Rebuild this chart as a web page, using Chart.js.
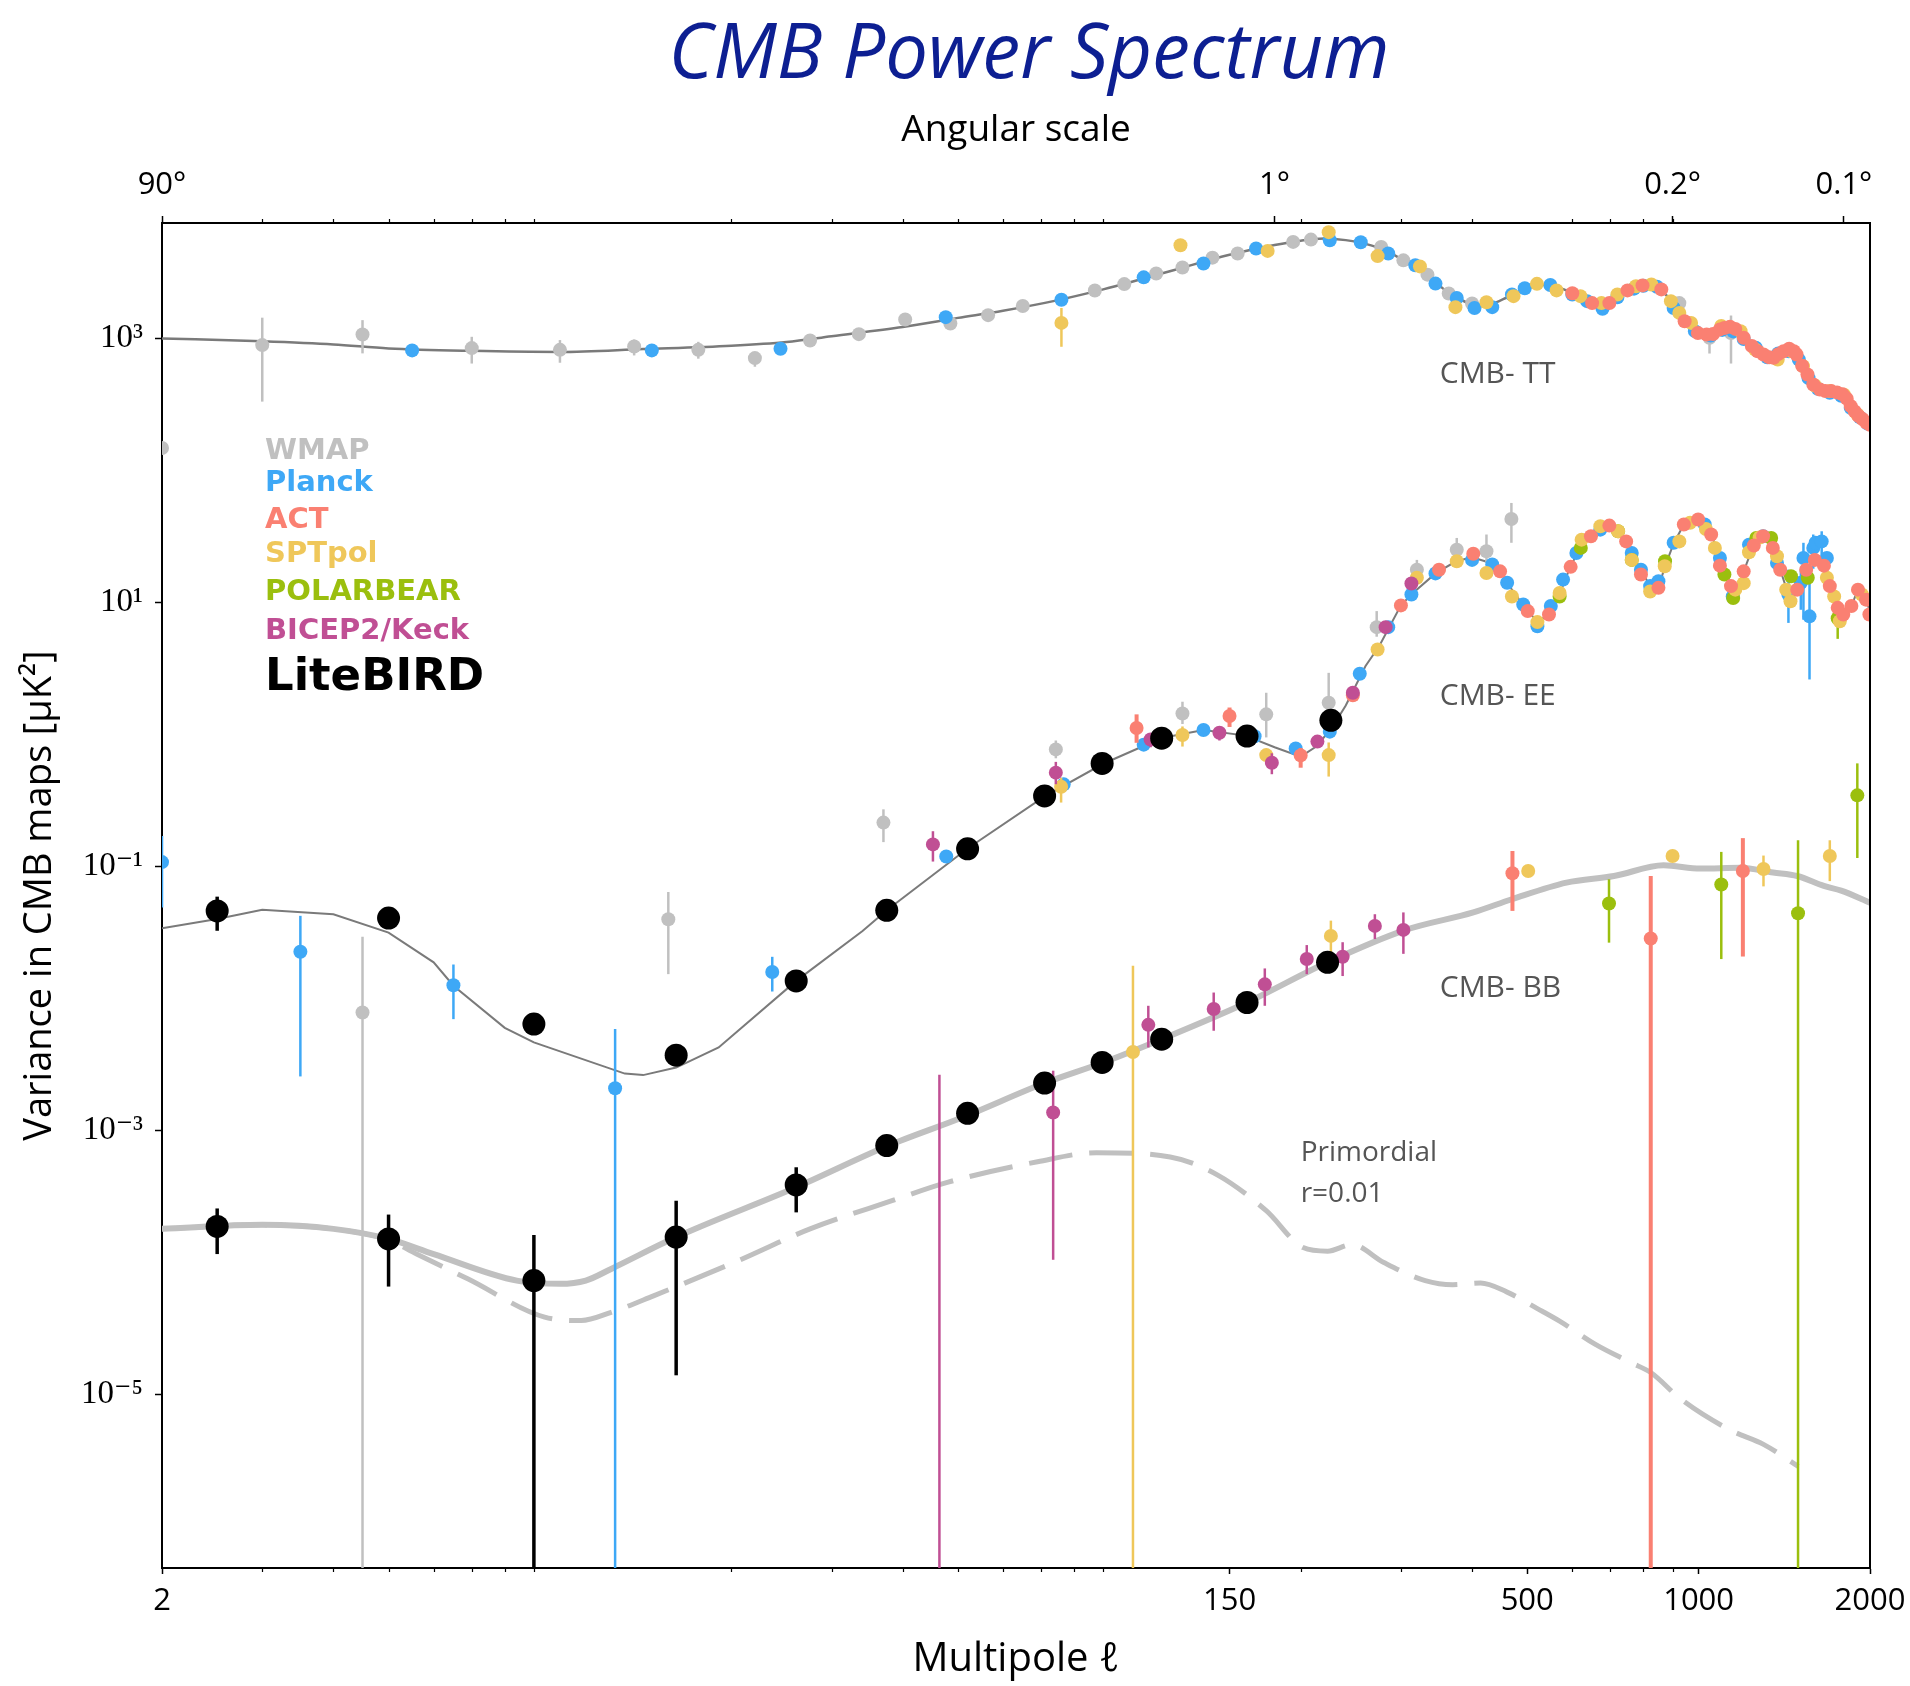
<!DOCTYPE html>
<html>
<head>
<meta charset="utf-8">
<title>CMB Power Spectrum</title>
<script src="https://cdn.jsdelivr.net/npm/chart.js"></script>
<style>
  html, body { margin: 0; padding: 0; background: #fff; }
  canvas { display: block; }
</style>
</head>
<body>
<canvas id="cmbChart" width="1910" height="1686"></canvas>
<script>
var SANS = '"Open Sans", "DejaVu Sans", sans-serif';
var SERIF = '"Liberation Serif", "DejaVu Serif", serif';

// axis ticks
var xTicks = [2, 150, 500, 1000, 2000];
var xMinor = [3, 4, 5, 6, 7, 8, 9, 20, 30, 40, 50, 60, 70, 80, 90, 200, 300, 400, 600, 700, 800, 900];
var topTicks = [2, 180, 900, 1800];
var topLabels = ['90°', '1°', '0.2°', '0.1°'];
var yTicks = [1e3, 1e1, 1e-1, 1e-3, 1e-5];
var yLabels = ['10³', '10¹', '10⁻¹', '10⁻³', '10⁻⁵'];

// theory curves (multipole, variance in uK^2)
var ttEll = [2, 3, 4, 5, 7, 10, 14, 20, 25, 30, 40, 50, 60, 75, 90, 100, 120, 150, 180, 200, 220, 240, 260, 280, 300, 330, 360, 400, 420, 450, 500, 540, 580, 620, 680, 720, 760, 800, 840, 880, 920, 960, 1000, 1050, 1100, 1150, 1200, 1250, 1320, 1400, 1450, 1500, 1560, 1620, 1700, 1800, 1870, 1950, 2000];
var ttVal = [1000, 950, 900, 840, 805, 790, 830, 880, 940, 1040, 1220, 1430, 1620, 1950, 2350, 2650, 3300, 4300, 5100, 5500, 5700, 5550, 5200, 4700, 4000, 3100, 2300, 1800, 1750, 1950, 2400, 2550, 2350, 2050, 1800, 2050, 2350, 2500, 2450, 2100, 1650, 1300, 1100, 1080, 1180, 1170, 1000, 850, 720, 790, 820, 700, 520, 420, 395, 370, 300, 250, 225];

var eeEll = [2, 2.5, 3, 4, 5, 6, 6.5, 8, 9, 13, 14, 16, 19, 26, 34, 37.5, 52, 71, 90, 114, 135, 160, 180, 200, 212, 226, 240, 260, 275, 300, 315, 345, 375, 400, 430, 450, 470, 495, 520, 545, 570, 590, 610, 640, 670, 697, 722, 746, 770, 795, 822, 850, 872, 904, 942, 998, 1025, 1052, 1090, 1140, 1160, 1200, 1263, 1298, 1350, 1391, 1438, 1490, 1545, 1600, 1660, 1700, 1755, 1795, 1855, 1905, 1968, 2000];
var eeVal = [0.034, 0.040, 0.047, 0.0435, 0.0316, 0.0188, 0.0125, 0.0060, 0.00465, 0.0027, 0.00263, 0.0030, 0.00426, 0.0136, 0.0325, 0.0466, 0.137, 0.34, 0.60, 0.94, 1.08, 0.98, 0.80, 0.68, 0.80, 1.09, 1.66, 3.3, 4.7, 9.5, 11.8, 16.6, 20.5, 22, 20, 17, 12.5, 9.2, 7.2, 8, 11.5, 17, 23, 31, 35.6, 38, 35, 29, 22, 17, 13.3, 12.9, 18.5, 28, 39, 42.5, 39, 33, 22, 13.3, 11.2, 17.2, 30.8, 31.7, 26, 17.7, 11.5, 12.5, 17.7, 21, 19, 13.3, 9.1, 8.1, 9.4, 12.5, 10.5, 8.5];

var bbEll = [2, 3, 4, 5, 6, 8.4, 10, 11.1, 12.3, 16, 26, 37.5, 51, 71, 90, 114, 161, 223, 305, 402, 470, 586, 710, 868, 1007, 1184, 1352, 1490, 1660, 1780, 2000];
var bbVal = [0.00018, 0.000193, 0.00018, 0.000151, 0.000116, 0.000073, 0.000069, 0.000073, 0.0000895, 0.000156, 0.000372, 0.00076, 0.00126, 0.00229, 0.00328, 0.00492, 0.00933, 0.0188, 0.033, 0.0449, 0.0565, 0.0755, 0.0847, 0.102, 0.0964, 0.098, 0.09, 0.0847, 0.0713, 0.0656, 0.0532];

var prEll = [2, 3, 4, 5, 5.6, 6.9, 9.4, 10.9, 12.3, 14.6, 20.2, 27.5, 38.3, 47.9, 69, 87.5, 118, 143, 174, 202, 223, 246, 280, 331, 370, 414, 460, 520, 570, 660, 760, 824, 932, 1135, 1300, 1496];
var prVal = [0.00018, 0.000193, 0.00018, 0.000148, 0.000116, 0.000075, 0.0000386, 0.0000364, 0.000042, 0.000056, 0.0001, 0.00018, 0.000294, 0.000405, 0.00058, 0.00068, 0.00063, 0.00046, 0.000247, 0.00013, 0.000122, 0.000137, 0.0001, 0.000073, 0.000068, 0.00007, 0.00006, 0.000045, 0.000036, 0.0000239, 0.0000175, 0.0000147, 0.0000092, 0.0000054, 0.0000042, 0.00000286];

// measurements: [multipole, value, lower, upper]; lower 0 = bar runs off the bottom
var wmapTT = [[2, 148], [3, 890, 332, 1435], [4.5, 1070, 770, 1375], [7, 844, 645, 1028], [10, 819, 654, 971], [13.5, 869, 743, 981], [17.5, 819, 702, 942], [22, 709, 610, 790], [27.5, 965], [33.5, 1077], [40.4, 1390], [48.5, 1296], [56.5, 1500], [65, 1760], [87, 2307], [98, 2577], [111.5, 3100], [124, 3440], [140, 4090], [155, 4390], [194, 5380], [208.5, 5600], [277, 4930], [303, 3900], [334, 3040], [364, 2190], [400, 1840], [925, 1850], [1045, 1010, 768, 1170], [1140, 1100, 645, 1490]];
var wmapEE = [[4.5, 0.00783, 0, 0.0294], [15.5, 0.0399, 0.0153, 0.0641], [37, 0.215, 0.153, 0.271], [74.3, 0.771, 0.66, 0.9], [124, 1.44, 1.2, 1.77], [174, 1.42, 0.95, 2.07], [224, 1.74, 1.3, 2.93], [272, 6.5, 5.5, 8.6], [320, 17.7, 15, 21], [376, 25.1, 20, 30.8], [424, 24.4, 20, 32.7], [469, 42.9, 28.3, 56.7]];

var planckTT = [[5.5, 811], [14.5, 811], [24.4, 835], [47.6, 1449], [76, 1960], [106, 2900], [135, 3690], [167, 4800], [225, 5540], [255, 5350], [285, 4390], [318, 3580], [345, 2600], [376, 2025], [404, 1700], [434, 1725], [470, 2150], [495, 2400], [549, 2540], [600, 2150], [637, 1915], [678, 1675], [720, 2050], [770, 2380], [800, 2500], [845, 2460], [904, 1700], [985, 1135], [1050, 1050], [1100, 1160], [1150, 1130], [1200, 990], [1260, 850], [1320, 720], [1380, 770], [1440, 800], [1500, 690], [1560, 500], [1620, 415], [1700, 388], [1780, 368], [1850, 298], [1920, 252], [1980, 226]];
var planckEE = [[2, 0.108, 0.049, 0.17], [3.5, 0.0226, 0.00257, 0.0423], [6.5, 0.0126, 0.00698, 0.0181], [12.5, 0.00209, 0, 0.00587], [23.6, 0.0159, 0.0113, 0.0207], [47.7, 0.119], [76.7, 0.419], [106, 0.837], [135, 1.08], [166, 0.97], [196, 0.783], [225, 1.05], [254, 2.88], [285, 6.5], [313, 11.5], [345, 16.6], [400, 21], [434, 19.4], [461, 14.1], [492, 9.65], [521, 6.6], [550, 9.4], [578, 14.9], [610, 23.7], [672, 35.6], [763, 23.7], [792, 17.7], [822, 13.3], [850, 14.5], [904, 28.3], [1025, 38.9], [1090, 21.7], [1148, 11.1], [1226, 27.4], [1298, 31.7], [1373, 19.9], [1438, 11.5, 7, 17.7], [1512, 14.1, 8.8, 17.7], [1528, 21.7, 7.4, 28.3], [1566, 7.85, 2.61, 18.8], [1590, 25.9, 18, 32.7], [1605, 28.3], [1645, 29, 22, 34.6], [1680, 21.7]];

var actTT = [[600, 2200], [650, 1850], [697, 1850], [750, 2310], [797, 2520], [860, 2350], [945, 1350], [997, 1100], [1033, 1070], [1060, 1080], [1090, 1170], [1110, 1200], [1135, 1224], [1160, 1180], [1200, 1010], [1240, 875], [1270, 800], [1300, 755], [1330, 720], [1355, 714], [1380, 760], [1410, 800], [1442, 835], [1470, 800], [1486, 755], [1520, 620], [1553, 533], [1590, 448], [1633, 410], [1670, 400], [1710, 399], [1750, 390], [1790, 377], [1820, 350], [1850, 307], [1880, 280], [1910, 258], [1940, 245], [1970, 230], [2000, 222]];
var actEE = [[103, 1.12, 0.865, 1.42], [150, 1.38, 1.14, 1.6], [200, 0.694, 0.56, 0.79], [247, 1.98], [300, 9.5], [350, 17.7], [402, 23.4], [448, 17.2], [501, 8.6], [546, 8.1], [596, 18.6], [647, 31.7], [697, 38.2], [746, 29], [792, 16.3], [850, 12.9], [942, 38.9], [998, 42.5], [1052, 32.7], [1090, 19], [1140, 13.3], [1200, 17.2], [1250, 27], [1298, 31.7], [1350, 25.9], [1391, 17.7], [1490, 12.5], [1545, 17.7], [1600, 21], [1660, 19], [1700, 13.3], [1755, 9.1], [1795, 8.1], [1855, 9.4], [1905, 12.5], [1968, 10.5], [1995, 8.1]];
var actBB = [[471, 0.0888, 0.0461, 0.131], [824, 0.0285, 0, 0.0847], [1196, 0.0924, 0.0208, 0.164]];

var sptTT = [[76, 1310, 864, 1700], [123, 5080], [175, 4600], [224, 6380], [273, 4200], [324, 3510], [374, 1725], [424, 1880], [473, 2090], [520, 2590], [563, 2310], [620, 2090], [675, 1850], [720, 2150], [776, 2480], [826, 2560], [894, 1915], [925, 1560], [970, 1310], [1096, 1240], [1185, 1135], [1257, 824], [1377, 692], [1458, 800], [1525, 616], [1600, 440], [1700, 400], [1800, 375], [1900, 265]];
var sptEE = [[75.9, 0.402, 0.305, 0.47], [124, 0.99, 0.81, 1.15], [174, 0.698], [224, 0.698, 0.48, 0.87], [273, 4.4], [320, 15.4], [376, 20.5], [424, 16.7], [470, 11.1], [521, 7.1], [570, 11.8], [623, 29.9], [672, 37.8], [722, 34.6], [763, 21], [822, 12.1], [872, 18.8], [925, 29], [966, 40.1], [1030, 36], [1068, 25.9], [1160, 12.5], [1200, 14], [1226, 24], [1280, 31], [1373, 22.4], [1425, 12.5], [1450, 10.2], [1680, 15.4], [1730, 11.1], [1770, 7.2], [1935, 11.5]];
var sptBB = [[101.5, 0.00394, 0, 0.0177], [226, 0.0298, 0.0218, 0.0389], [502, 0.0924], [900, 0.12], [1300, 0.0958, 0.0707, 0.121], [1700, 0.12, 0.0775, 0.158]];

var pbEE = [[570, 11.1], [621, 25.9], [722, 34.6], [763, 21], [873, 20.5], [1110, 16.3], [1150, 10.8], [1263, 30.8], [1341, 30.8], [1453, 15.8], [1555, 15.4], [1755, 7.6, 5.3, 9.5]];
var pbBB = [[696, 0.0524, 0.0265, 0.08], [1096, 0.073, 0.0199, 0.129], [1495, 0.0443, 0, 0.158], [1900, 0.346, 0.116, 0.604]];

var bkEE = [[45.2, 0.147, 0.109, 0.185], [74.3, 0.514, 0.42, 0.62], [109, 0.916, 0.8, 1.0], [144, 1.03, 0.9, 1.15], [178, 0.611, 0.5, 0.72], [214, 0.883], [247, 2.07], [282, 6.5], [313, 13.9]];
var bkBB = [[46.4, null, 0, 0.00265], [73.5, 0.00137, 0.000105, 0.00284], [108, 0.00632, 0.00426, 0.00881], [140.7, 0.00832, 0.0057, 0.0111], [173, 0.0128, 0.00881, 0.0169], [205, 0.0199, 0.0153, 0.0254], [237, 0.0207, 0.0148, 0.0267], [270, 0.0355, 0.0282, 0.0435], [303, 0.0331, 0.0218, 0.0449]];

var lbEE = [[2.5, 0.0461, 0.0326, 0.0591], [5, 0.0407], [9, 0.0064], [16, 0.00372], [26, 0.0136], [37.5, 0.0466], [52, 0.136], [71, 0.342], [89.6, 0.604], [114, 0.937], [161, 0.973], [226, 1.28]];
var lbBB = [[2.5, 0.000188, 0.000116, 0.000257], [5, 0.000151, 0.0000658, 0.000231], [9, 0.000073, 0, 0.000162], [16, 0.000156, 0.000014, 0.000294], [26, 0.000387, 0.00024, 0.000527], [37.5, 0.00077], [52, 0.00135], [71, 0.00229], [89.6, 0.00328], [114, 0.00492], [161, 0.00933], [223, 0.0188]];

// curve labels
var curveLabels = ['CMB- TT', 'CMB- EE', 'CMB- BB', 'Primordial', 'r=0.01'];
var curveLabelEll = [351, 351, 351, 200, 200];
var curveLabelVal = [529, 1.95, 0.012, 0.00067, 0.00033];

var experiments = [
  { name: 'WMAP', color: '#c0c0c0', rows: wmapTT.concat(wmapEE), bar: 2.5, r: 7, order: 6 },
  { name: 'Planck', color: '#3ea8f6', rows: planckTT.concat(planckEE), bar: 2.5, r: 7, order: 5 },
  { name: 'ACT', color: '#fa8072', rows: actTT.concat(actEE, actBB), bar: 4, r: 7, order: 2 },
  { name: 'SPTpol', color: '#efc75a', rows: sptTT.concat(sptEE, sptBB), bar: 2.5, r: 7, order: 3 },
  { name: 'POLARBEAR', color: '#9bbf0e', rows: pbEE.concat(pbBB), bar: 2.5, r: 7, order: 4 },
  { name: 'BICEP2/Keck', color: '#c04f94', rows: bkEE.concat(bkBB), bar: 2.5, r: 7, order: 1 },
  { name: 'LiteBIRD', color: '#000000', rows: lbEE.concat(lbBB), bar: 3.5, r: 11.5, order: 0 }
];

function curve(ells, vals) {
  return ells.map(function (l, i) { return { x: l, y: vals[i] }; });
}

var datasets = [
  { label: 'TT', data: curve(ttEll, ttVal), borderColor: '#7a7a7a', borderWidth: 2.5, order: 20, cubicInterpolationMode: 'monotone' },
  { label: 'EE', data: curve(eeEll, eeVal), borderColor: '#7a7a7a', borderWidth: 2, order: 19, tension: 0 },
  { label: 'BB', data: curve(bbEll, bbVal), borderColor: '#c0c0c0', borderWidth: 6, order: 18, cubicInterpolationMode: 'monotone' },
  { label: 'Primordial', data: curve(prEll, prVal), borderColor: '#c0c0c0', borderWidth: 5, borderDash: [44, 17], order: 17, cubicInterpolationMode: 'monotone' }
].map(function (d) {
  d.showLine = true; d.pointRadius = 0; d.clip = 0; d.fill = false;
  return d;
});

experiments.forEach(function (e) {
  datasets.push({
    label: e.name,
    data: e.rows.filter(function (p) { return p[1] != null; }).map(function (p) { return { x: p[0], y: p[1] }; }),
    bars: e.rows.filter(function (p) { return p.length > 2; }),
    barWidth: e.bar,
    pointRadius: e.r,
    pointBackgroundColor: e.color,
    pointBorderColor: e.color,
    pointBorderWidth: 0,
    backgroundColor: e.color,
    borderColor: e.color,
    showLine: false,
    clip: 0,
    order: e.order
  });
});

var decorations = {
  id: 'decorations',
  beforeDatasetDraw: function (chart, args) {
    var ds = chart.data.datasets[args.index];
    if (!ds.bars || !ds.bars.length) return;
    var ctx = chart.ctx, a = chart.chartArea, x = chart.scales.x, y = chart.scales.y;
    ctx.save();
    ctx.beginPath();
    ctx.rect(a.left, a.top, a.right - a.left, a.bottom - a.top);
    ctx.clip();
    ctx.strokeStyle = ds.borderColor;
    ctx.lineWidth = ds.barWidth;
    ds.bars.forEach(function (p) {
      var px = x.getPixelForValue(p[0]);
      var lo = p[2] > 0 ? y.getPixelForValue(p[2]) : a.bottom + 10;
      ctx.beginPath();
      ctx.moveTo(px, lo);
      ctx.lineTo(px, y.getPixelForValue(p[3]));
      ctx.stroke();
    });
    ctx.restore();
  },
  afterDraw: function (chart) {
    var ctx = chart.ctx, a = chart.chartArea, x = chart.scales.x, y = chart.scales.y;
    ctx.save();
    // right spine
    ctx.strokeStyle = '#000';
    ctx.lineWidth = 2;
    ctx.beginPath();
    ctx.moveTo(a.right, a.top - 1);
    ctx.lineTo(a.right, a.bottom + 1);
    ctx.stroke();
    // minor ticks, bottom and top
    ctx.lineWidth = 1.2;
    xMinor.forEach(function (v) {
      var px = Math.round(x.getPixelForValue(v)) + 0.5;
      ctx.beginPath();
      ctx.moveTo(px, a.bottom);
      ctx.lineTo(px, a.bottom + 4);
      ctx.moveTo(px, a.top);
      ctx.lineTo(px, a.top - 4);
      ctx.stroke();
    });
    // title
    ctx.fillStyle = '#0d1f92';
    ctx.font = 'italic 76px ' + SANS;
    ctx.textAlign = 'center';
    ctx.textBaseline = 'alphabetic';
    ctx.fillText('CMB Power Spectrum', 1029, 78);
    // legend (coloured names)
    var baselines = [459, 491, 528, 562, 600, 639, 690];
    ctx.textAlign = 'left';
    experiments.forEach(function (e, i) {
      ctx.fillStyle = e.color;
      ctx.font = (e.name === 'LiteBIRD' ? 'bold 45px ' : 'bold 29px ') + '"DejaVu Sans", sans-serif';
      ctx.fillText(e.name, 265, baselines[i]);
    });
    // curve labels
    ctx.fillStyle = '#555';
    ctx.textBaseline = 'middle';
    curveLabels.forEach(function (t, i) {
      ctx.font = (i < 3 ? '30px ' : '28px ') + SANS;
      ctx.fillText(t, x.getPixelForValue(curveLabelEll[i]), y.getPixelForValue(curveLabelVal[i]));
    });
    ctx.restore();
  }
};

var ctx = document.getElementById('cmbChart').getContext('2d');
var cmbChart = new Chart(ctx, {
  type: 'scatter',
  data: { datasets: datasets },
  options: {
    responsive: false,
    animation: false,
    events: [],
    layout: { padding: { top: 0, left: 0, right: 40, bottom: 0 } },
    plugins: {
      legend: { display: false },
      tooltip: { enabled: false }
    },
    scales: {
      x: {
        type: 'logarithmic',
        position: 'bottom',
        min: 2,
        max: 2000,
        bounds: 'data',
        afterBuildTicks: function (s) { s.ticks = xTicks.map(function (v) { return { value: v }; }); },
        afterFit: function (s) { s.height = 118; s.paddingLeft = 0; s.paddingRight = 0; },
        ticks: {
          autoSkip: false, maxRotation: 0, padding: 9, color: '#000',
          font: { family: SANS, size: 31 },
          callback: function (v) { return String(v); }
        },
        grid: { drawOnChartArea: false, tickLength: 6, tickColor: '#000', tickWidth: 1.5 },
        border: { color: '#000', width: 2 },
        title: { display: true, text: 'Multipole ℓ', color: '#000', font: { family: SANS, size: 40 }, padding: { top: 0, bottom: 2 } }
      },
      xTop: {
        type: 'logarithmic',
        position: 'top',
        min: 2,
        max: 2000,
        bounds: 'data',
        afterBuildTicks: function (s) { s.ticks = topTicks.map(function (v) { return { value: v }; }); },
        afterFit: function (s) { s.height = 223; s.paddingLeft = 0; s.paddingRight = 0; },
        ticks: {
          autoSkip: false, maxRotation: 0, padding: 12, color: '#000',
          font: { family: SANS, size: 31 },
          callback: function (v, i) { return topLabels[i]; }
        },
        grid: { drawOnChartArea: false, tickLength: 7, tickColor: '#000', tickWidth: 1.5 },
        border: { color: '#000', width: 2 },
        title: { display: true, text: 'Angular scale', color: '#000', font: { family: SANS, size: 37 }, padding: { top: 108, bottom: 0 } }
      },
      y: {
        type: 'logarithmic',
        position: 'left',
        min: 4.86e-7,
        max: 7482,
        bounds: 'data',
        afterBuildTicks: function (s) { s.ticks = yTicks.map(function (v) { return { value: v }; }); },
        afterFit: function (s) { s.width = 162; },
        ticks: {
          autoSkip: false, padding: 12, color: '#000',
          font: { family: SERIF, size: 33 },
          callback: function (v, i) { return yLabels[i]; }
        },
        grid: { drawOnChartArea: false, tickLength: 7, tickColor: '#000', tickWidth: 1.5 },
        border: { color: '#000', width: 2 },
        title: { display: true, text: 'Variance in CMB maps [μK²]', color: '#000', font: { family: SANS, size: 38 }, padding: { top: 17, bottom: 0 } }
      }
    }
  },
  plugins: [decorations]
});
</script>
</body>
</html>
